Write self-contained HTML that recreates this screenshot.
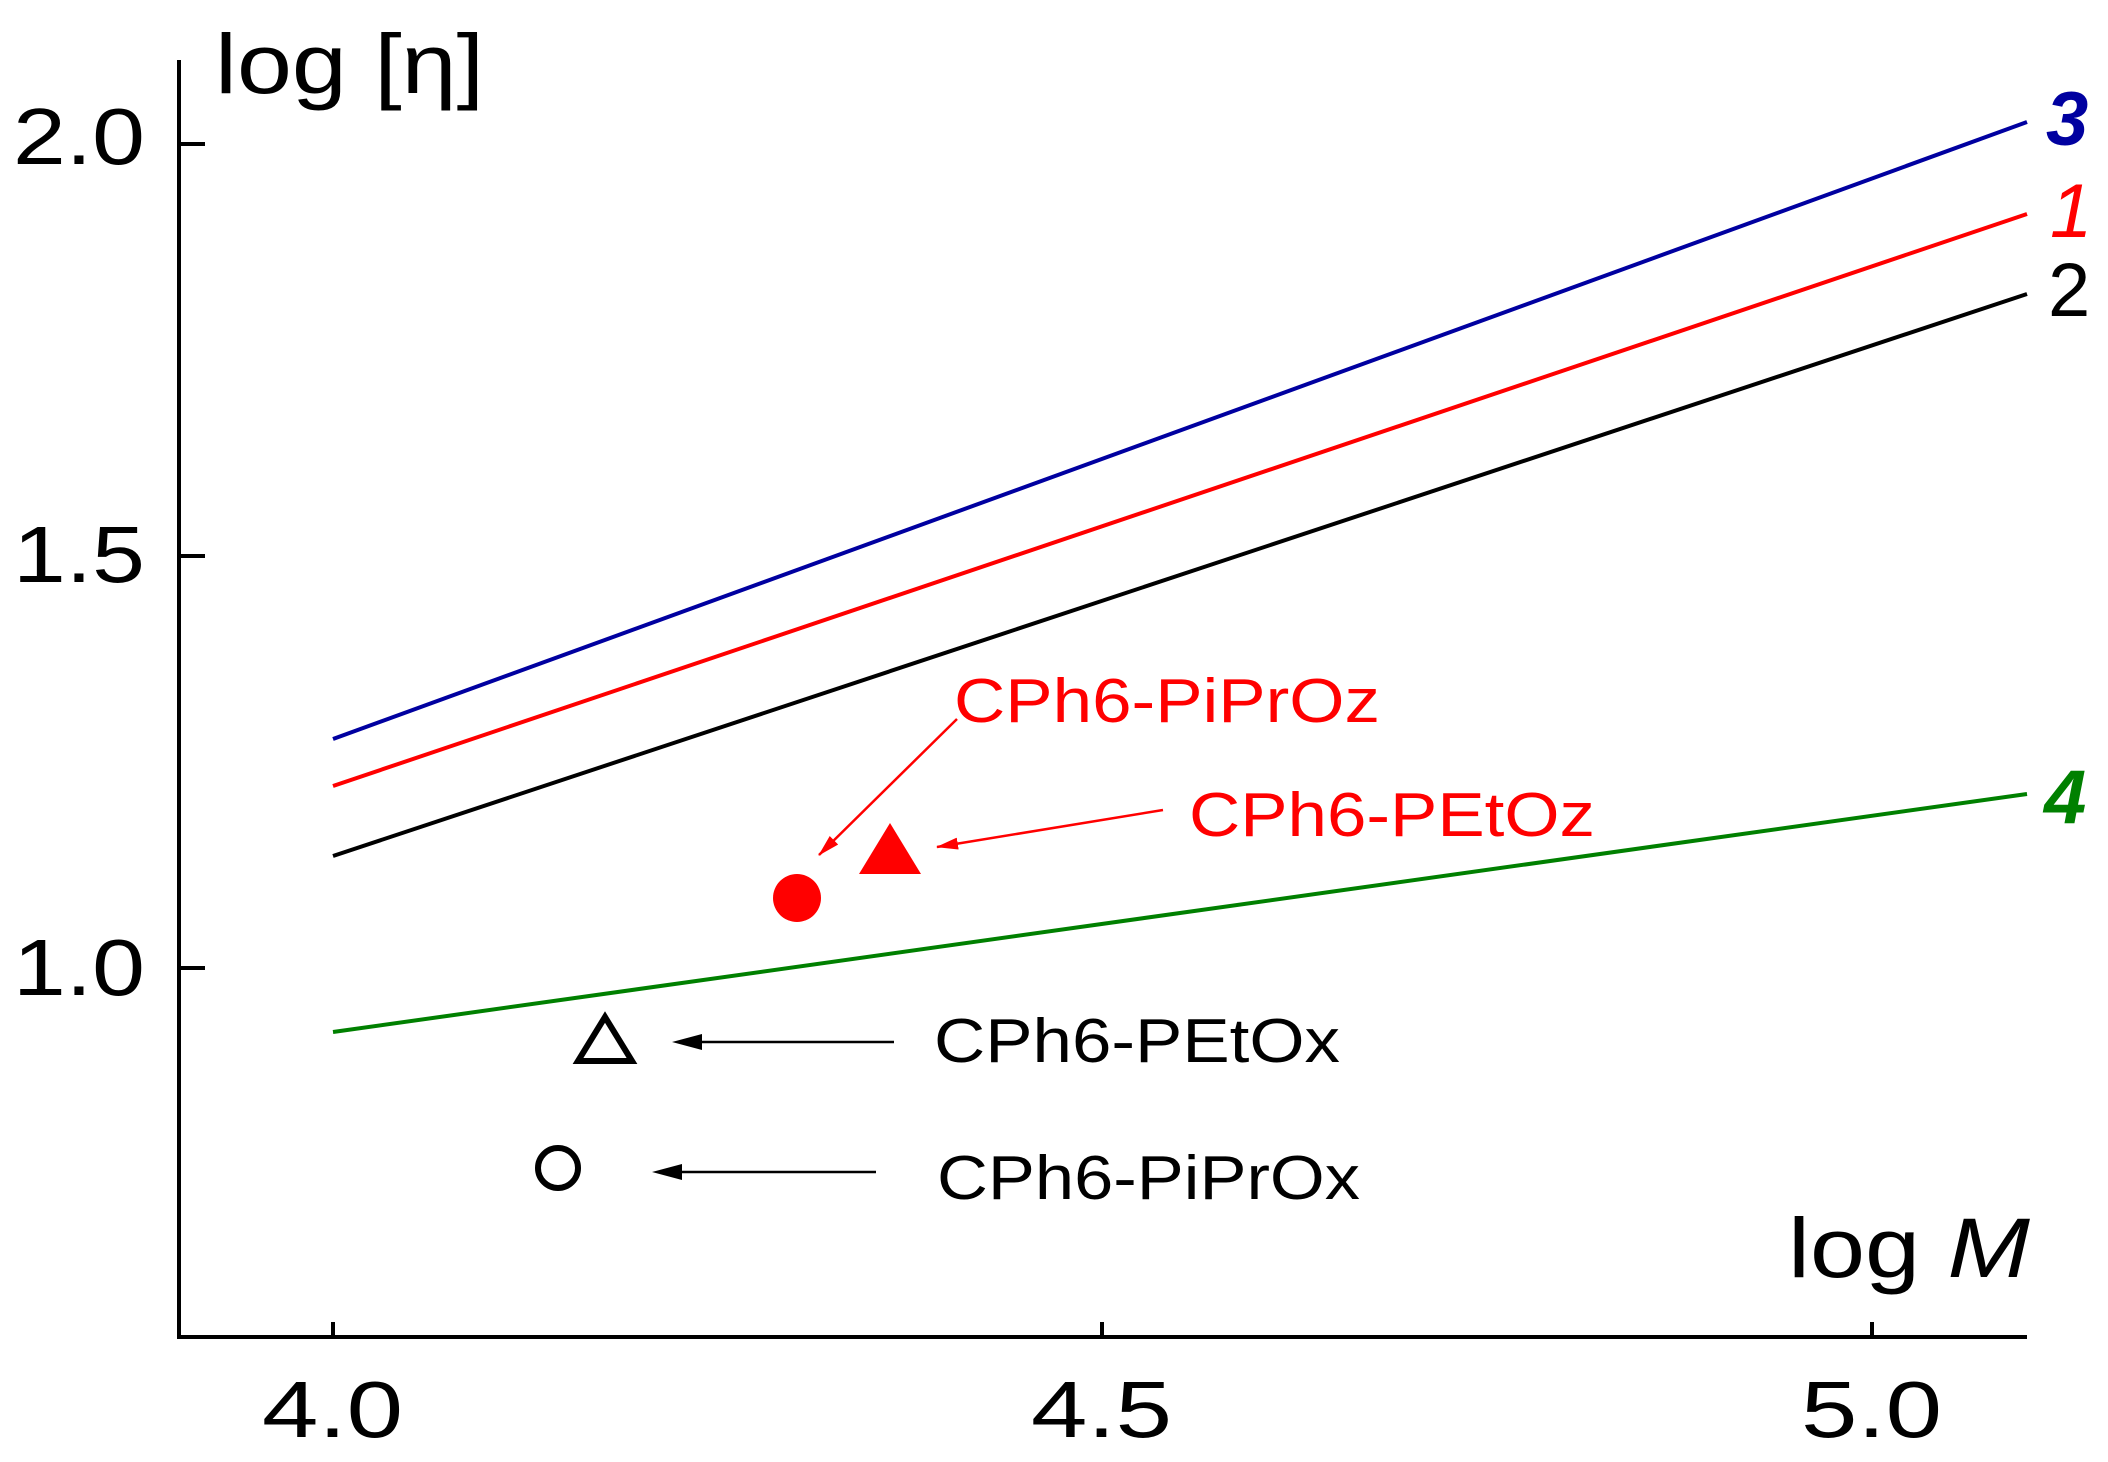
<!DOCTYPE html>
<html><head><meta charset="utf-8"><style>
html,body{margin:0;padding:0;background:#fff;}
svg{display:block;}
text{font-family:"Liberation Sans",sans-serif;}
</style></head><body>
<svg width="2108" height="1462" viewBox="0 0 2108 1462" xmlns="http://www.w3.org/2000/svg">
<defs>
<marker id="ar" markerWidth="22" markerHeight="12" refX="21" refY="6" orient="auto" markerUnits="userSpaceOnUse" viewBox="0 0 22 12">
<path d="M0,0 L22,6 L0,12 z" fill="red"/></marker>
</defs>
<g stroke="#000" stroke-width="4" fill="none">
<path d="M179,60 L179,1337 L2027,1337"/>
<path d="M179,144 L205,144 M179,556 L205,556 M179,968 L205,968"/>
<path d="M333,1337 L333,1322 M1102,1337 L1102,1322 M1872,1337 L1872,1322"/>
</g>
<g font-size="80" fill="#000">
<text x="13" y="164" textLength="132" lengthAdjust="spacingAndGlyphs">2.0</text>
<text x="13" y="582" textLength="132" lengthAdjust="spacingAndGlyphs">1.5</text>
<text x="13" y="995" textLength="132" lengthAdjust="spacingAndGlyphs">1.0</text>
<text x="262" y="1437" textLength="141" lengthAdjust="spacingAndGlyphs">4.0</text>
<text x="1031" y="1437" textLength="141" lengthAdjust="spacingAndGlyphs">4.5</text>
<text x="1801" y="1437" textLength="141" lengthAdjust="spacingAndGlyphs">5.0</text>
<text x="215" y="93" font-size="84" textLength="269" lengthAdjust="spacingAndGlyphs">log [η]</text>
<text x="1788" y="1277" font-size="84" textLength="242" lengthAdjust="spacingAndGlyphs">log <tspan font-style="italic">M</tspan></text>
</g>
<g stroke-width="4">
<line x1="333" y1="739" x2="2027" y2="122" stroke="#0000a0"/>
<line x1="333" y1="786" x2="2027" y2="214" stroke="#ff0000"/>
<line x1="333" y1="856" x2="2027" y2="294" stroke="#000"/>
<line x1="333" y1="1032" x2="2027" y2="794" stroke="#008000"/>
</g>
<g font-size="76" font-style="italic" font-weight="bold">
<text x="2046" y="145" fill="#0000a0">3</text>
<text x="2050" y="237" fill="#ff0000" font-weight="normal">1</text>
<text x="2048" y="316" fill="#000" font-style="normal" font-weight="normal">2</text>
<text x="2044" y="823" fill="#008000">4</text>
</g>
<circle cx="797" cy="898" r="24" fill="red"/>
<path d="M890,823 L921,874 L859,874 z" fill="red"/>
<path d="M605,1017 L632,1061 L578,1061 z" fill="none" stroke="#000" stroke-width="6"/>
<circle cx="558" cy="1168" r="20" fill="none" stroke="#000" stroke-width="6"/>
<g stroke-width="2.5">
<line x1="957" y1="719" x2="819" y2="855" stroke="red" marker-end="url(#ar)"/>
<line x1="1163" y1="810" x2="937" y2="847" stroke="red" marker-end="url(#ar)"/>
</g>
<g stroke="#000" stroke-width="2.5">
<line x1="894" y1="1042" x2="690" y2="1042"/>
<line x1="876" y1="1172" x2="670" y2="1172"/>
</g>
<path d="M672,1042 L702,1034 L702,1050 z" fill="#000"/>
<path d="M652,1172 L682,1164 L682,1180 z" fill="#000"/>
<g font-size="62">
<text x="954" y="722" fill="red" textLength="426" lengthAdjust="spacingAndGlyphs">CPh6-PiPrOz</text>
<text x="1189" y="836" fill="red" textLength="406" lengthAdjust="spacingAndGlyphs">CPh6-PEtOz</text>
<text x="934" y="1062" fill="#000" textLength="406" lengthAdjust="spacingAndGlyphs">CPh6-PEtOx</text>
<text x="937" y="1199" fill="#000" textLength="423" lengthAdjust="spacingAndGlyphs">CPh6-PiPrOx</text>
</g>
</svg>
</body></html>
